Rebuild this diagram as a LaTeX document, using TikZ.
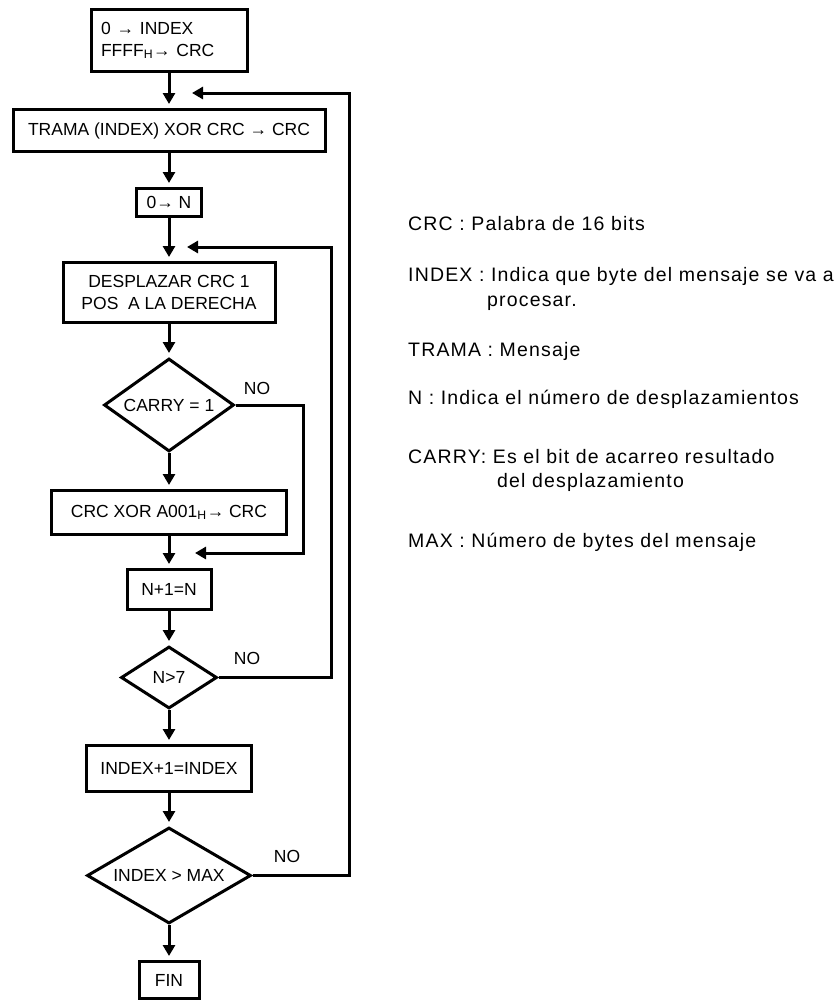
\documentclass[tikz,border=0pt]{standalone}
\usepackage{fontspec}
\setmainfont{Liberation Sans}
\newfontfamily\legendfont{Liberation Sans}[LetterSpace=6]
\usetikzlibrary{arrows.meta,shapes.geometric}

\begin{document}
\begin{tikzpicture}[x=1pt,y=-1pt,
  every node/.style={font=\fontsize{17.5}{22}\selectfont},
  box/.style={draw, line width=3pt, rectangle, inner sep=0pt, align=center},
  decision/.style={draw, line width=3pt, diamond, inner sep=0pt, aspect=1.4},
  flow/.style={line width=3pt, -{Triangle[length=11pt,width=12pt]}, shorten >=4pt},
  loopline/.style={line width=3pt, -{Triangle[length=11pt,width=12pt]}},
  nolabel/.style={inner sep=0pt},
  legend/.style={anchor=base west, inner sep=0pt, font=\legendfont\fontsize{19.5}{22}\selectfont},
]
\useasboundingbox (0,0) rectangle (838,1002);

% flowchart blocks
\node[box, minimum width=156, minimum height=62, text width=136, align=left] (init) at (169,40.5)
  {0 → INDEX\\FFFF\textsubscript{H}→ CRC};
\node[box, minimum width=312, minimum height=42] (trama) at (169,130.5) {TRAMA (INDEX) XOR CRC → CRC};
\node[box, minimum width=65, minimum height=28] (nzero) at (169,202.5) {0→ N};
\node[box, minimum width=212, minimum height=60, align=center] (shift) at (169,292.5)
  {DESPLAZAR CRC 1\\POS\ \ A LA DERECHA};
\node[decision, minimum width=130, minimum height=93] (carry) at (169,405) {CARRY = 1};
\node[box, minimum width=235, minimum height=44] (xor) at (169,512.5) {CRC XOR A001\textsubscript{H}→ CRC};
\node[box, minimum width=84, minimum height=40] (ninc) at (169,589.5) {N+1=N};
\node[decision, minimum width=96, minimum height=62] (nmax) at (169,677.5) {N>7};
\node[box, minimum width=165, minimum height=46] (iinc) at (169,768.5) {INDEX+1=INDEX};
\node[decision, minimum width=164, minimum height=96] (imax) at (169,875.5) {INDEX > MAX};
\node[box, minimum width=60, minimum height=37] (fin) at (169,980) {FIN};

% main flow
\draw[flow] (init) -- (trama);
\draw[flow] (trama) -- (nzero);
\draw[flow] (nzero) -- (shift);
\draw[flow] (shift) -- (carry);
\draw[flow] (carry) -- (xor);
\draw[flow] (xor) -- (ninc);
\draw[flow] (ninc) -- (nmax);
\draw[flow] (nmax) -- (iinc);
\draw[flow] (iinc) -- (imax);
\draw[flow] (imax) -- (fin);

% return branches
\coordinate (c1) at (303,553);
\coordinate (t1) at (195,553);
\coordinate (c2) at (331,247);
\coordinate (t2) at (187,247);
\coordinate (c3) at (349,93);
\coordinate (t3) at (192,93);
\draw[loopline] (carry.east) -| (c1) -- (t1);
\draw[loopline] (nmax.east) -| (c2) -- (t2);
\draw[loopline] (imax.east) -| (c3) -- (t3);

\node[nolabel] (no1) at (257,388) {NO};
\node[nolabel] (no2) at (247,658) {NO};
\node[nolabel] (no3) at (287,856) {NO};

% legend
\node[legend] (lcrc) at (408,230) {CRC : Palabra de 16 bits};
\node[legend] (lindex) at (408,281.5) {INDEX : Indica que byte del mensaje se va a};
\node[legend] (lproc) at (487,306.5) {procesar.};
\node[legend] (ltrama) at (408,356) {TRAMA : Mensaje};
\node[legend] (ln) at (408,404) {N : Indica el número de desplazamientos};
\node[legend] (lcarry) at (408,463.5) {CARRY: Es el bit de acarreo resultado};
\node[legend] (ldel) at (497,487) {del desplazamiento};
\node[legend] (lmax) at (408,547) {MAX : Número de bytes del mensaje};
\end{tikzpicture}
\end{document}
